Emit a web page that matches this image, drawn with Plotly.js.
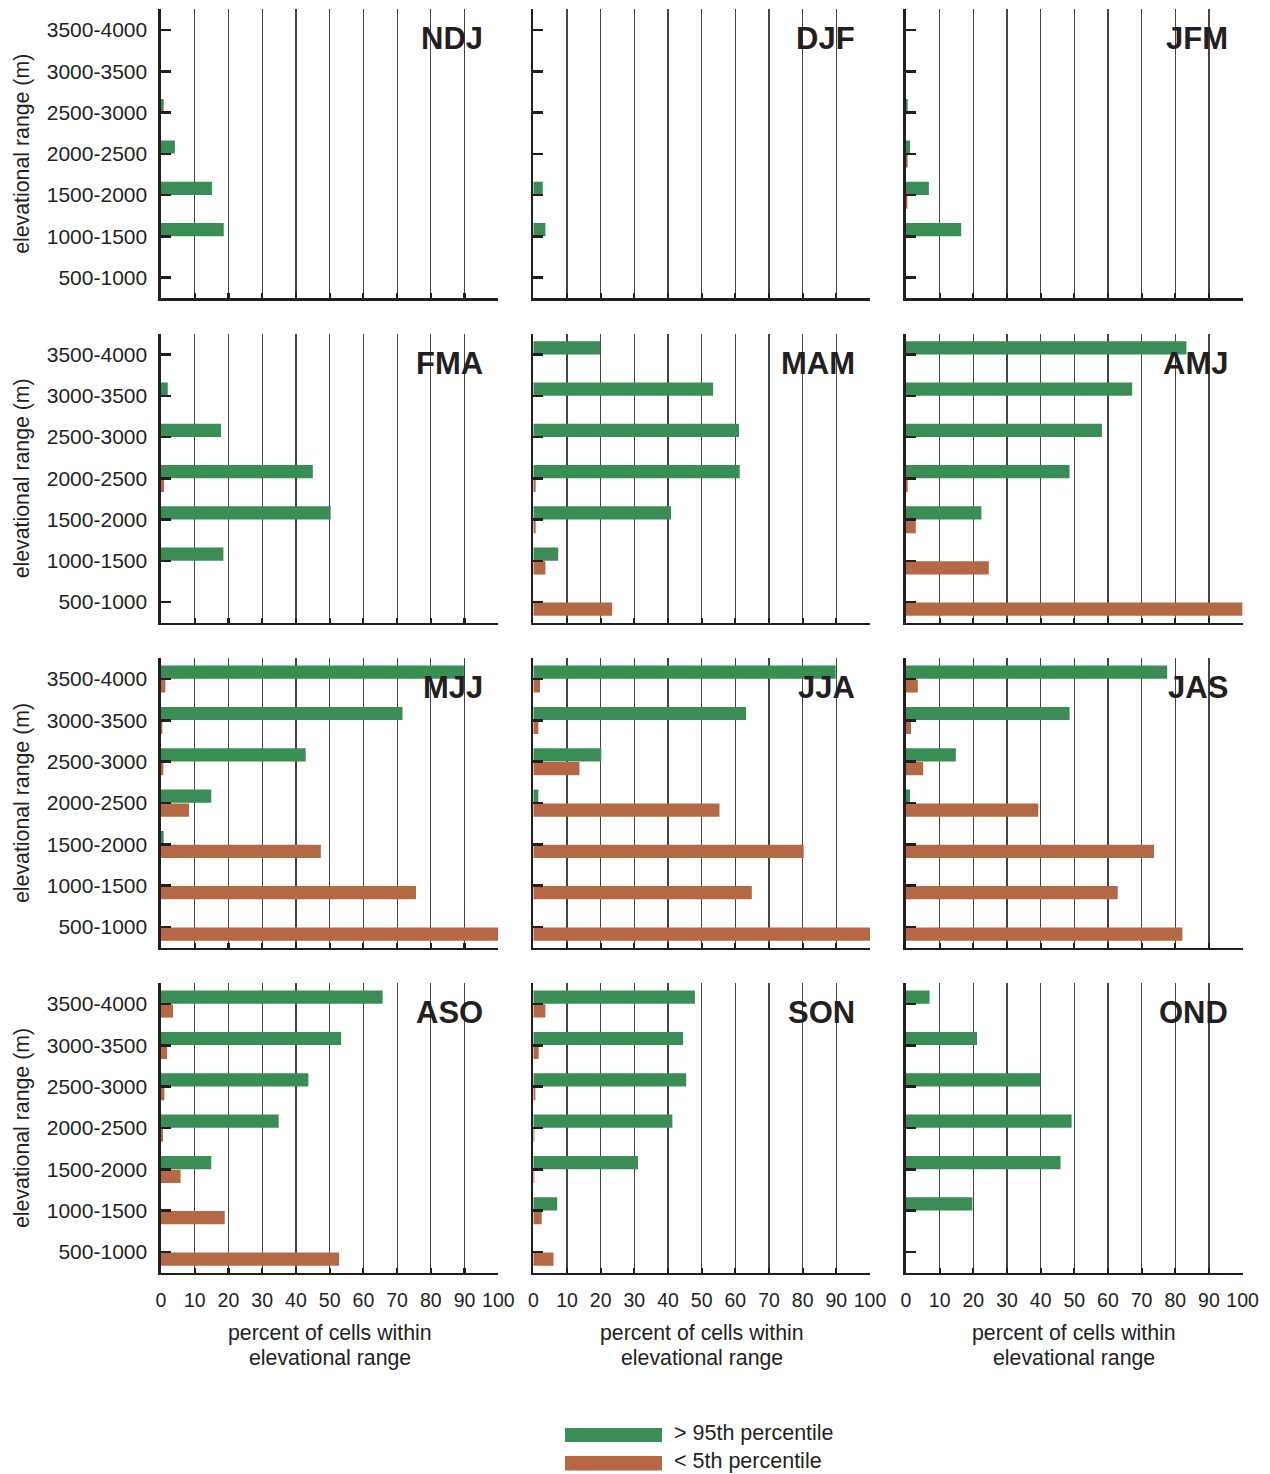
<!DOCTYPE html>
<html>
<head>
<meta charset="utf-8">
<script src="https://cdn.plot.ly/plotly-3.0.1.min.js"></script>
<style>
html,body{margin:0;padding:0;background:#fff;}
#chart{width:1270px;height:1474px;}
</style>
</head>
<body>
<div id="chart"></div>
<script>
// ---------------- DATA ----------------
const categories = ["500-1000","1000-1500","1500-2000","2000-2500","2500-3000","3000-3500","3500-4000"];
const panelNames = ["NDJ","DJF","JFM","FMA","MAM","AMJ","MJJ","JJA","JAS","ASO","SON","OND"];
const xTickVals = [0,10,20,30,40,50,60,70,80,90,100];
const seriesNames = ["> 95th percentile","< 5th percentile"];
const xTitleLines = ["percent of cells within", "elevational range"];
const yTitle = "elevational range (m)";

// values listed bottom (500-1000) to top (3500-4000)
const ndjAbove = [0, 18.6, 15.1, 4.1, 0.8, 0, 0];
const ndjBelow = [0, 0, 0, 0, 0, 0, 0];
const djfAbove = [0, 3.6, 2.8, 0, 0, 0, 0];
const djfBelow = [0, 0, 0, 0, 0, 0, 0];
const jfmAbove = [0, 16.4, 6.8, 1.2, 0.5, 0, 0];
const jfmBelow = [0, 0, 0.4, 0.5, 0, 0, 0];
const fmaAbove = [0, 18.5, 50.3, 45.0, 17.8, 2.0, 0];
const fmaBelow = [0, 0, 0, 0.9, 0, 0, 0];
const mamAbove = [0, 7.4, 40.9, 61.3, 61.1, 53.4, 19.9];
const mamBelow = [23.4, 3.6, 0.7, 0.7, 0, 0, 0];
const amjAbove = [0, 0, 22.4, 48.6, 58.2, 67.2, 83.3];
const amjBelow = [100, 24.6, 2.9, 0.5, 0, 0, 0];
const mjjAbove = [0, 0, 0.8, 14.9, 42.9, 71.6, 89.8];
const mjjBelow = [100, 75.6, 47.4, 8.3, 0.7, 0.4, 1.3];
const jjaAbove = [0, 0, 0, 1.5, 20.2, 63.2, 89.8];
const jjaBelow = [100, 64.9, 80.3, 55.3, 13.7, 1.5, 2.0];
const jasAbove = [0, 0, 0, 1.2, 14.8, 48.6, 77.6];
const jasBelow = [82.1, 62.9, 73.7, 39.3, 5.1, 1.5, 3.5];
const asoAbove = [0, 0, 14.9, 34.9, 43.7, 53.4, 65.7];
const asoBelow = [52.8, 18.9, 5.8, 0.6, 1.0, 1.8, 3.6];
const sonAbove = [0, 7.1, 31.1, 41.3, 45.4, 44.5, 48.0];
const sonBelow = [6.0, 2.5, 0.3, 0.3, 0.6, 1.6, 3.6];
const ondAbove = [0, 19.7, 45.9, 49.2, 39.9, 21.1, 7.0];
const ondBelow = [0, 0, 0, 0, 0, 0, 0];

const aboveSeries = [ndjAbove, djfAbove, jfmAbove, fmaAbove, mamAbove, amjAbove, mjjAbove, jjaAbove, jasAbove, asoAbove, sonAbove, ondAbove];
const belowSeries = [ndjBelow, djfBelow, jfmBelow, fmaBelow, mamBelow, amjBelow, mjjBelow, jjaBelow, jasBelow, asoBelow, sonBelow, ondBelow];

// ---------------- STYLE / LAYOUT ----------------
const W = 1270, H = 1474;
const GREEN = "#3a8d55", BROWN = "#b46944", INK = "#231f20";
const FONT = "Liberation Sans, Arial, Helvetica, sans-serif";
const colPx = [[161, 498.3], [533.3, 870], [906, 1242.6]];
const rowPx = [[9.3, 298.3], [334, 622.7], [658.3, 947.7], [983.3, 1272.7]];
const xTitleY = [1333, 1358];

const data = [];
const layout = {
  width: W, height: H,
  margin: {l: 0, r: 0, t: 0, b: 0},
  paper_bgcolor: "#fff", plot_bgcolor: "rgba(0,0,0,0)",
  showlegend: false,
  barmode: "overlay",
  font: {family: FONT, color: INK, size: 21},
  annotations: [], shapes: []
};

panelNames.forEach((name, i) => {
  const r = Math.floor(i / 3), c = i % 3;
  const n = i + 1;
  const xa = "x" + (n === 1 ? "" : n), ya = "y" + (n === 1 ? "" : n);
  const xk = "xaxis" + (n === 1 ? "" : n), yk = "yaxis" + (n === 1 ? "" : n);
  data.push({
    type: "bar", orientation: "h", name: seriesNames[1],
    y: categories, x: belowSeries[i], xaxis: xa, yaxis: ya,
    width: 0.32, offset: -0.33,
    marker: {color: BROWN, line: {width: 0}}, hoverinfo: "x+y"
  });
  data.push({
    type: "bar", orientation: "h", name: seriesNames[0],
    y: categories, x: aboveSeries[i], xaxis: xa, yaxis: ya,
    width: 0.32, offset: 0.005,
    marker: {color: GREEN, line: {width: 0}}, hoverinfo: "x+y"
  });
  layout[xk] = {
    domain: [colPx[c][0] / W, colPx[c][1] / W],
    anchor: ya, range: [0, 100], fixedrange: true,
    tickmode: "array", tickvals: xTickVals, ticktext: xTickVals.map(String),
    showticklabels: r === 3, tickfont: {size: 19.5, color: INK, family: FONT},
    ticklabelstandoff: 8,
    ticks: "inside", ticklen: 5, tickwidth: 2.2, tickcolor: INK,
    showgrid: true, gridcolor: "#444444", gridwidth: 1.2,
    zeroline: false, showline: true, linecolor: INK, linewidth: 2.6
  };
  layout[yk] = {
    domain: [1 - rowPx[r][1] / H, 1 - rowPx[r][0] / H],
    anchor: xa, type: "category", categoryorder: "array", categoryarray: categories,
    range: [-0.5, 6.5], fixedrange: true,
    showticklabels: c === 0, tickfont: {size: 21, color: INK, family: FONT},
    ticklabelstandoff: 7,
    ticks: "inside", ticklen: 10, tickwidth: 2.6, tickcolor: INK,
    showgrid: false, zeroline: false, showline: true, linecolor: INK, linewidth: 2.6
  };
  // panel label
  layout.annotations.push({
    xref: "paper", yref: "paper",
    x: (colPx[c][1] - 13) / W, y: 1 - (rowPx[r][0] + 29.5) / H,
    xanchor: "right", yanchor: "middle", showarrow: false,
    text: "<b>" + name + "</b>", font: {size: 31, family: FONT, color: INK}
  });
  if (c === 0) {
    layout.annotations.push({
      xref: "paper", yref: "paper",
      x: 22 / W, y: 1 - ((rowPx[r][0] + rowPx[r][1]) / 2) / H,
      xanchor: "center", yanchor: "middle", showarrow: false, textangle: -90,
      text: yTitle, font: {size: 21.3, family: FONT, color: INK}
    });
  }
  if (r === 3) {
    xTitleLines.forEach((line, k) => {
      layout.annotations.push({
        xref: "paper", yref: "paper",
        x: ((colPx[c][0] + colPx[c][1]) / 2) / W, y: 1 - xTitleY[k] / H,
        xanchor: "center", yanchor: "middle", showarrow: false,
        text: line, font: {size: 21.3, family: FONT, color: INK}
      });
    });
  }
});

// legend (drawn manually for wide swatches)
const legendColors = [GREEN, BROWN];
const legendRows = [[1428, 1442], [1456, 1470.5]];
const legendTextY = [1433, 1461];
seriesNames.forEach((s, k) => {
  layout.shapes.push({
    type: "rect", xref: "paper", yref: "paper",
    x0: 565 / W, x1: 662 / W,
    y0: 1 - legendRows[k][1] / H, y1: 1 - legendRows[k][0] / H,
    fillcolor: legendColors[k], line: {width: 0}
  });
  layout.annotations.push({
    xref: "paper", yref: "paper",
    x: 672 / W, y: 1 - legendTextY[k] / H,
    xanchor: "left", yanchor: "middle", showarrow: false,
    text: s.replace("<", "&lt;").replace(">", "&gt;"), font: {size: 21.5, family: FONT, color: INK}
  });
});

Plotly.newPlot("chart", data, layout, {staticPlot: true, displayModeBar: false});
</script>
</body>
</html>
